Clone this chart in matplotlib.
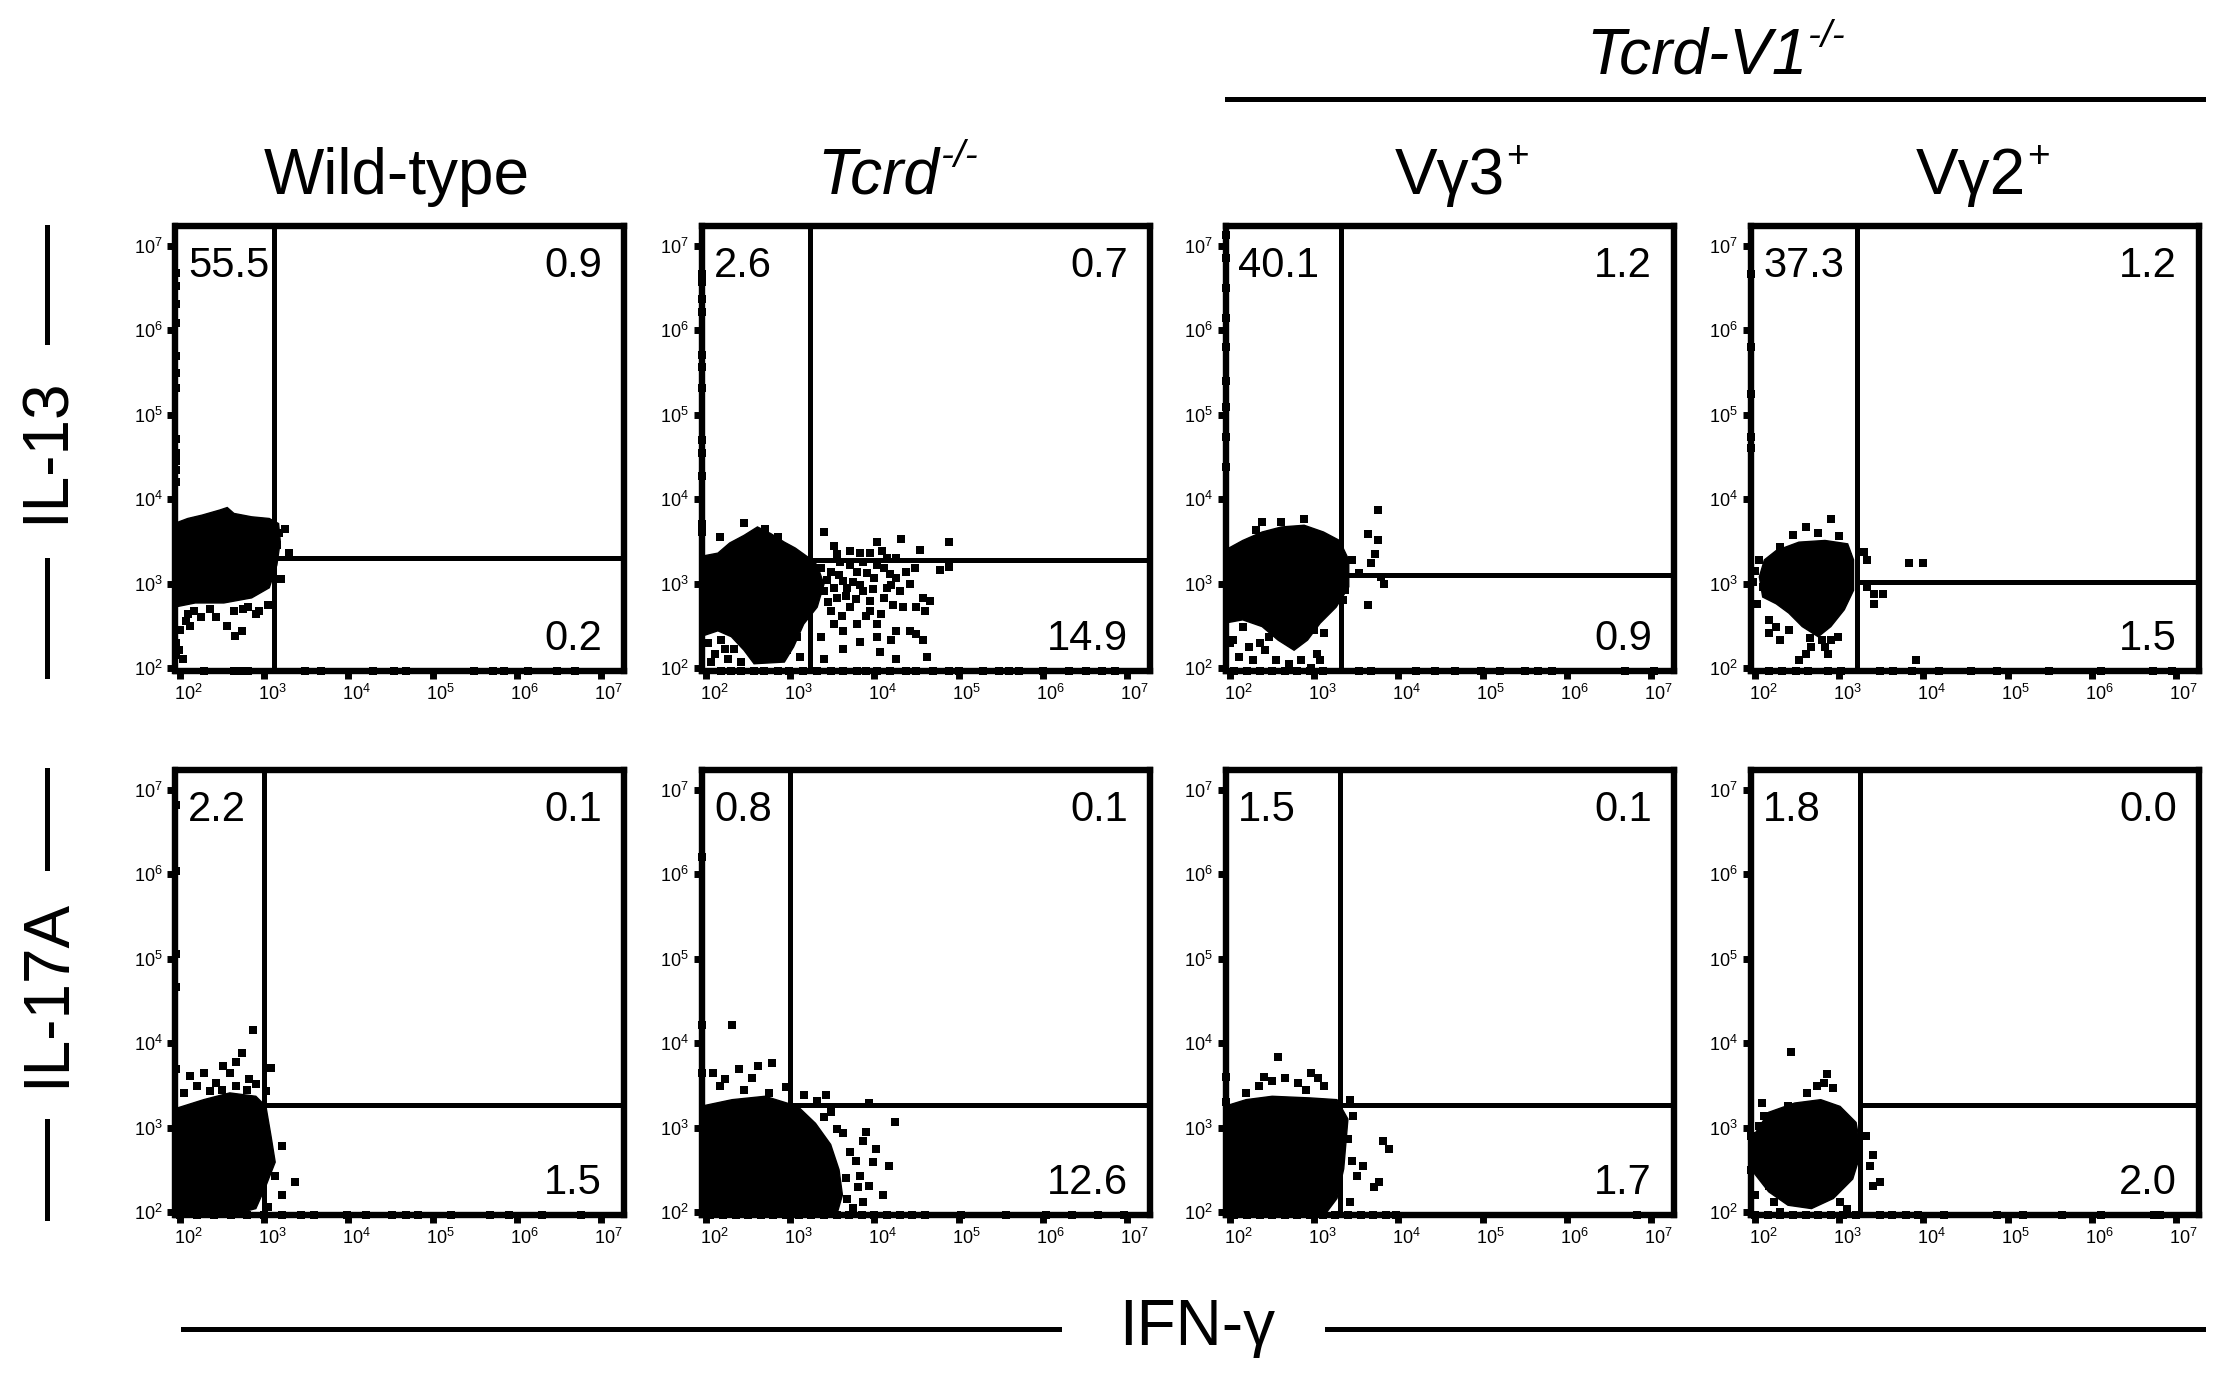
import numpy as np
import matplotlib.pyplot as plt
from matplotlib.lines import Line2D
from matplotlib.ticker import NullLocator
from matplotlib.transforms import ScaledTranslation

plt.rcParams['font.family'] = ['Liberation Sans', 'DejaVu Sans']
plt.rcParams['mathtext.fontset'] = 'custom'
plt.rcParams['mathtext.rm'] = 'Liberation Sans'
plt.rcParams['mathtext.it'] = 'Liberation Sans:italic'

# ---- data (all positions in log10 fluorescence units) ----
row_names = ['IL-13', 'IL-17A']

# quadrant percentages [row][col]: upper-left, upper-right, lower-right
quad_ul = [[55.5, 2.6, 40.1, 37.3], [2.2, 0.8, 1.5, 1.8]]
quad_ur = [[0.9, 0.7, 1.2, 1.2], [0.1, 0.1, 0.1, 0.0]]
quad_lr = [[0.2, 14.9, 0.9, 1.5], [1.5, 12.6, 1.7, 2.0]]

# quadrant gates (log10)
gate_x = [[3.12, 3.23, 3.32, 3.21], [3.00, 3.00, 3.31, 3.25]]
gate_y = [[3.30, 3.28, 3.10, 3.02], [3.27, 3.27, 3.27, 3.27]]

tick_exp = [2, 3, 4, 5, 6, 7]
x_lo, x_hi = 1.945, 7.27
y_lo, y_hi = 1.97, 7.24

# Wild-type, IL-13
a1_core = [(1.93, 3.71), (2.09, 3.77), (2.26, 3.81), (2.47, 3.87), (2.56, 3.90), (2.64, 3.83),
           (2.85, 3.79), (3.06, 3.77), (3.17, 3.71), (3.19, 3.50), (3.15, 3.22), (3.06, 2.95),
           (2.85, 2.83), (2.52, 2.77), (2.18, 2.77), (1.93, 2.72)]
a1_dots = [(2.09, 2.64), (2.16, 2.68), (2.07, 2.56), (2.35, 2.70), (2.43, 2.60), (2.56, 2.50),
           (2.65, 2.38), (2.73, 2.44), (2.90, 2.64), (3.04, 2.75), (2.64, 2.68), (1.99, 2.21),
           (2.03, 2.11), (3.25, 3.65), (3.30, 3.36), (3.15, 3.46), (3.04, 3.10), (2.81, 2.72),
           (2.94, 2.68), (2.25, 2.60), (2.75, 2.70), (2.00, 2.45), (2.12, 2.50), (3.18, 3.60),
           (3.20, 3.05)]
a1_floor = [2.28, 2.64, 2.72, 2.81, 3.49, 3.68, 4.29, 4.54, 4.69, 5.49, 5.72, 5.85, 6.14, 6.48, 6.69]
a1_wall = [6.68, 6.52, 6.31, 6.09, 5.70, 5.49, 5.31, 4.71, 4.55, 4.45, 4.35, 4.20, 2.30, 2.15]

# Tcrd-/-, IL-13
b1_core = [(1.93, 3.32), (2.14, 3.36), (2.28, 3.48), (2.45, 3.57), (2.61, 3.67), (2.77, 3.59),
           (2.93, 3.49), (3.06, 3.42), (3.20, 3.32), (3.32, 3.22), (3.40, 2.99), (3.32, 2.72),
           (3.16, 2.52), (3.04, 2.25), (2.93, 2.07), (2.57, 2.05), (2.45, 2.21), (2.30, 2.37),
           (2.14, 2.44), (1.93, 2.37)]
b1_dots = [(3.40, 3.61), (3.52, 3.44), (3.71, 3.38), (3.83, 3.36), (4.03, 3.49), (4.09, 3.38),
           (4.26, 3.30), (4.32, 3.53), (4.54, 3.40), (4.89, 3.49), (4.89, 3.20), (4.78, 3.16),
           (4.48, 3.18), (4.38, 3.14), (4.66, 2.79), (4.60, 2.68), (4.58, 2.33), (4.62, 2.13),
           (4.42, 2.44), (4.50, 2.40), (4.26, 2.44), (4.20, 2.33), (4.03, 2.37), (4.07, 2.19),
           (4.26, 2.11), (3.83, 2.31), (3.63, 2.44), (3.63, 2.23), (3.40, 2.11), (3.36, 2.37),
           (3.52, 2.52), (3.71, 2.72), (3.95, 2.68), (4.11, 2.83), (4.30, 2.91), (4.42, 2.99),
           (3.48, 3.14), (3.63, 3.03), (3.79, 3.14), (3.99, 3.07), (4.19, 3.11), (3.87, 2.91),
           (3.56, 2.83), (3.36, 3.18), (4.03, 3.22), (3.71, 3.22), (3.87, 3.26), (4.22, 2.75),
           (4.03, 2.52), (3.79, 2.52), (3.48, 2.68), (3.67, 2.95), (4.15, 2.95), (3.95, 2.79),
           (3.59, 3.26), (3.40, 2.91), (4.50, 2.72), (4.58, 2.83), (4.34, 2.72), (4.26, 3.07),
           (3.44, 3.04), (3.52, 2.95), (3.58, 3.10), (3.66, 2.85), (3.75, 3.02), (3.83, 2.98),
           (3.91, 3.12), (3.78, 2.82), (3.90, 2.62), (4.08, 2.64), (4.12, 3.18), (4.20, 2.98),
           (3.55, 3.35), (3.95, 3.36), (4.15, 3.30), (3.45, 2.78), (3.62, 2.62), (3.98, 2.93),
           (2.02, 2.29), (2.10, 2.17), (2.18, 2.33), (2.26, 2.11), (2.33, 2.23), (2.06, 2.07),
           (2.41, 2.07), (2.22, 2.23), (3.08, 2.37), (2.96, 2.21), (3.12, 2.13), (2.89, 2.33),
           (2.16, 3.55), (2.45, 3.72), (2.86, 3.55), (2.70, 3.64)]
b1_floor = [2.18, 2.30, 2.41, 2.57, 2.69, 2.85, 2.98, 3.15, 3.32, 3.48, 3.63, 3.79, 3.90, 4.03,
            4.19, 4.38, 4.50, 4.70, 4.89, 5.01, 5.29, 5.48, 5.60, 5.72, 6.00, 6.31, 6.51, 6.70, 6.86]
b1_wall = [6.67, 6.57, 6.37, 6.22, 5.71, 5.56, 5.32, 4.70, 4.54, 4.27, 3.71, 3.61]

# Tcrd-V1-/- Vg3+, IL-13
c1_core = [(1.93, 3.39), (2.15, 3.51), (2.38, 3.61), (2.61, 3.67), (2.88, 3.69), (3.11, 3.61),
           (3.30, 3.51), (3.41, 3.28), (3.41, 2.96), (3.26, 2.72), (3.07, 2.53), (2.92, 2.33),
           (2.76, 2.21), (2.57, 2.33), (2.38, 2.49), (2.15, 2.57), (1.93, 2.53)]
c1_dots = [(2.38, 3.73), (2.61, 3.73), (2.88, 3.77), (2.31, 3.63), (3.76, 3.87), (3.64, 3.59),
           (3.76, 3.51), (3.72, 3.35), (3.68, 3.24), (3.83, 3.00), (3.79, 3.08), (3.45, 3.28),
           (3.53, 3.12), (3.37, 2.92), (3.34, 2.80), (3.64, 2.74), (2.04, 2.65), (2.15, 2.49),
           (2.04, 2.33), (2.23, 2.25), (2.42, 2.21), (2.11, 2.13), (2.27, 2.09), (2.84, 2.09),
           (3.03, 2.17), (3.11, 2.41), (3.07, 2.09), (2.00, 2.30), (2.46, 2.37), (2.96, 2.00),
           (2.55, 2.10), (2.70, 2.05), (2.35, 2.30), (3.00, 2.45)]
c1_floor = [2.05, 2.20, 2.35, 2.50, 2.65, 2.80, 2.95, 3.10, 3.53, 3.68, 4.21, 4.44, 4.67, 4.98,
            5.21, 5.51, 5.66, 5.82, 6.69, 7.04]
c1_wall = [7.13, 6.86, 6.50, 6.15, 5.80, 5.40, 5.09, 4.73, 4.38]

# Tcrd-V1-/- Vg2+, IL-13
d1_core = [(2.25, 3.39), (2.52, 3.49), (2.83, 3.51), (3.10, 3.47), (3.17, 3.28), (3.17, 2.92),
           (3.06, 2.69), (2.90, 2.49), (2.75, 2.37), (2.56, 2.49), (2.40, 2.65), (2.25, 2.76),
           (2.09, 2.84), (2.05, 3.08), (2.11, 3.28)]
d1_dots = [(2.90, 3.77), (2.60, 3.67), (2.29, 3.43), (3.29, 3.37), (3.33, 3.28), (3.83, 3.24),
           (3.99, 3.24), (3.33, 2.96), (3.41, 2.88), (3.52, 2.88), (3.41, 2.76), (3.91, 2.09),
           (2.09, 2.96), (2.17, 2.57), (2.25, 2.49), (2.17, 2.41), (2.29, 2.33), (2.67, 2.25),
           (2.83, 2.25), (2.79, 2.33), (2.90, 2.33), (2.98, 2.37), (2.60, 2.17), (2.52, 2.09),
           (2.87, 2.17), (2.02, 2.76), (2.05, 3.28), (3.10, 3.31), (1.98, 3.02), (2.00, 3.15),
           (2.45, 3.58), (2.75, 3.60), (3.00, 3.56), (2.65, 2.35), (2.40, 2.45)]
d1_floor = [2.17, 2.32, 2.48, 2.63, 2.87, 3.02, 3.48, 3.64, 3.87, 4.18, 4.57, 4.87, 5.49, 6.11,
            6.73, 6.96]
d1_wall = [6.66, 5.80, 5.24, 4.73, 4.61]

# Wild-type, IL-17A
a2_core = [(1.93, 3.22), (2.28, 3.33), (2.59, 3.41), (2.90, 3.37), (3.02, 3.25), (3.08, 2.90),
           (3.13, 2.59), (3.02, 2.31), (2.90, 2.04), (2.59, 1.96), (2.28, 1.96), (1.93, 1.96)]
a2_dots = [(2.87, 4.16), (2.74, 3.88), (2.67, 3.78), (2.51, 3.73), (2.28, 3.65), (2.12, 3.61),
           (2.59, 3.65), (2.82, 3.57), (3.08, 3.71), (2.43, 3.53), (2.20, 3.49), (2.67, 3.49),
           (2.90, 3.51), (2.05, 3.41), (3.02, 3.43), (2.36, 3.43), (3.21, 2.78), (3.13, 2.43),
           (3.36, 2.35), (3.21, 2.20), (3.05, 2.06), (2.50, 3.45), (2.80, 3.44)]
a2_floor = [2.00, 2.20, 2.40, 2.60, 2.80, 3.00, 3.21, 3.44, 3.59, 3.98, 4.21, 4.52, 4.68, 4.83,
            5.22, 5.68, 5.91, 6.30, 6.77]
a2_wall = [6.82, 6.04, 5.06, 4.67, 3.69]

# Tcrd-/-, IL-17A
b2_core = [(1.93, 3.25), (2.31, 3.33), (2.70, 3.37), (3.09, 3.25), (3.30, 3.05), (3.48, 2.80),
           (3.58, 2.50), (3.62, 2.20), (3.55, 1.96), (1.93, 1.96)]
b2_dots = [(2.31, 4.22), (2.08, 3.65), (2.23, 3.57), (2.39, 3.69), (2.62, 3.73), (2.78, 3.76),
           (2.54, 3.59), (2.16, 3.49), (2.75, 3.41), (3.16, 3.39), (3.43, 3.39), (3.94, 3.29),
           (3.32, 3.31), (4.25, 3.06), (3.86, 2.84), (4.02, 2.75), (4.17, 2.55), (4.10, 2.20),
           (3.94, 2.31), (3.83, 2.43), (3.98, 2.59), (3.86, 2.12), (3.71, 2.71), (3.63, 2.94),
           (3.48, 3.18), (3.78, 2.60), (3.80, 2.30), (3.75, 2.05), (3.66, 2.40), (3.68, 2.15),
           (3.55, 2.98), (3.40, 3.12), (3.90, 2.95), (2.45, 3.45), (2.95, 3.48)]
b2_floor = [2.05, 2.20, 2.35, 2.50, 2.65, 2.80, 2.95, 3.10, 3.25, 3.40, 3.55, 3.70, 3.85, 4.00,
            4.15, 4.30, 4.45, 4.60, 5.03, 5.57, 6.04, 6.35, 6.66, 6.97]
b2_wall = [6.20, 4.22, 3.65]

# Tcrd-V1-/- Vg3+, IL-17A
c2_core = [(1.93, 3.25), (2.19, 3.33), (2.50, 3.37), (2.96, 3.35), (3.27, 3.33), (3.40, 3.10),
           (3.35, 2.51), (3.27, 2.16), (3.12, 1.96), (1.93, 1.96)]
c2_dots = [(2.57, 3.84), (2.65, 3.59), (2.50, 3.55), (2.81, 3.53), (2.96, 3.65), (3.04, 3.59),
           (3.12, 3.49), (2.34, 3.49), (2.19, 3.41), (3.43, 3.33), (3.46, 3.14), (3.82, 2.84),
           (3.89, 2.75), (3.58, 2.55), (3.51, 2.43), (3.77, 2.35), (3.71, 2.29), (3.43, 2.12),
           (3.40, 2.86), (3.45, 2.60), (2.40, 3.60), (2.90, 3.45)]
c2_floor = [2.05, 2.20, 2.35, 2.50, 2.65, 2.80, 2.95, 3.10, 3.25, 3.40, 3.55, 3.70, 3.85, 3.97, 6.84]
c2_wall = [3.60, 3.30]

# Tcrd-V1-/- Vg2+, IL-17A
d2_core = [(2.16, 3.18), (2.47, 3.29), (2.78, 3.33), (3.01, 3.25), (3.20, 3.06), (3.26, 2.71),
           (3.16, 2.39), (2.93, 2.16), (2.67, 2.04), (2.39, 2.08), (2.16, 2.24), (1.98, 2.47),
           (1.98, 2.90)]
d2_dots = [(2.43, 3.90), (2.85, 3.63), (2.82, 3.53), (2.73, 3.49), (2.62, 3.41), (2.93, 3.47),
           (2.39, 3.25), (2.08, 3.29), (2.11, 3.14), (2.05, 3.02), (3.32, 2.90), (3.40, 2.67),
           (3.37, 2.55), (3.48, 2.35), (3.40, 2.31), (2.08, 2.71), (2.16, 2.31), (2.23, 2.12),
           (3.01, 2.12), (3.09, 2.04), (2.00, 2.20), (2.30, 2.00)]
d2_floor = [2.00, 2.15, 2.30, 2.45, 2.60, 2.75, 2.90, 3.05, 3.20, 3.48, 3.63, 3.79, 3.94, 4.25,
            4.87, 5.18, 5.65, 6.11, 6.74, 6.81]
d2_wall = [2.90, 2.50]

cores = [[a1_core, b1_core, c1_core, d1_core], [a2_core, b2_core, c2_core, d2_core]]
dots = [[a1_dots, b1_dots, c1_dots, d1_dots], [a2_dots, b2_dots, c2_dots, d2_dots]]
floors = [[a1_floor, b1_floor, c1_floor, d1_floor], [a2_floor, b2_floor, c2_floor, d2_floor]]
walls = [[a1_wall, b1_wall, c1_wall, d1_wall], [a2_wall, b2_wall, c2_wall, d2_wall]]

# ---- layout (pixels) ----
W, H = 2217, 1374
fig = plt.figure(figsize=(W / 100, H / 100), dpi=100)
col_left = [175.5, 701.5, 1225.5, 1750.5]
row_top = [225.5, 769.5]
ax_w, ax_h = 448, 445
dot_s = 30

xlab_shift = ScaledTranslation(8 / 100, 0, fig.dpi_scale_trans)

for r in range(2):
    for c in range(4):
        L, T = col_left[c], row_top[r]
        ax = fig.add_axes([L / W, 1 - (T + ax_h) / H, ax_w / W, ax_h / H])
        ax.set_xscale('log')
        ax.set_yscale('log')
        ax.set_xlim(10 ** x_lo, 10 ** x_hi)
        ax.set_ylim(10 ** y_lo, 10 ** y_hi)

        core = np.array(cores[r][c]).T
        ax.fill(10 ** core[0], 10 ** core[1], color='black', lw=1, zorder=2)
        pts = np.array(dots[r][c]).T
        ax.scatter(10 ** pts[0], 10 ** pts[1], s=dot_s, marker='s', c='black', lw=0, zorder=3)
        fl = np.array(floors[r][c])
        ax.scatter(10 ** fl, np.full(len(fl), 10 ** y_lo), s=dot_s, marker='s', c='black',
                   lw=0, clip_on=False, zorder=4)
        wl = np.array(walls[r][c])
        ax.scatter(np.full(len(wl), 10 ** x_lo), 10 ** wl, s=dot_s, marker='s', c='black',
                   lw=0, clip_on=False, zorder=4)

        gx, gy = gate_x[r][c], gate_y[r][c]
        ax.axvline(10 ** gx, color='black', lw=3.6, zorder=5)
        ax.axhline(10 ** gy, xmin=(gx - x_lo) / (x_hi - x_lo), xmax=1, color='black',
                   lw=3.6, zorder=5)

        ax.text(0.028, 0.955, f'{quad_ul[r][c]:.1f}', transform=ax.transAxes, fontsize=30,
                ha='left', va='top', zorder=6)
        ax.text(0.952, 0.955, f'{quad_ur[r][c]:.1f}', transform=ax.transAxes, fontsize=30,
                ha='right', va='top', zorder=6)
        ax.text(0.952, 0.045, f'{quad_lr[r][c]:.1f}', transform=ax.transAxes, fontsize=30,
                ha='right', va='baseline', zorder=6)

        ticks = [10.0 ** k for k in tick_exp]
        labels = [rf'$\mathregular{{10^{{{k}}}}}$' for k in tick_exp]
        ax.set_xticks(ticks)
        ax.set_xticklabels(labels)
        ax.set_yticks(ticks)
        ax.set_yticklabels(labels)
        ax.xaxis.set_minor_locator(NullLocator())
        ax.yaxis.set_minor_locator(NullLocator())
        ax.tick_params(direction='out', length=6, width=5, labelsize=13)
        ax.tick_params(axis='x', pad=4)
        ax.tick_params(axis='y', pad=3)
        for lab in ax.get_xticklabels():
            lab.set_transform(lab.get_transform() + xlab_shift)
        for sp in ax.spines.values():
            sp.set_linewidth(4.6)

renderer = fig.canvas.get_renderer()


def sup_label(cx, base_y, base, sup, size, sup_size, style='normal'):
    t1 = fig.text(0, 0, base, fontsize=size, style=style, ha='left', va='baseline')
    t2 = fig.text(0, 0, sup, fontsize=sup_size, style=style, ha='left', va='baseline')
    w1 = t1.get_window_extent(renderer).width
    w2 = t2.get_window_extent(renderer).width
    x0 = cx - (w1 + w2) / 2
    rise = size / 72 * 100 * 0.42
    t1.set_position((x0 / W, 1 - base_y / H))
    t2.set_position(((x0 + w1 + 1) / W, 1 - (base_y - rise) / H))


def hline(x0, x1, y):
    fig.add_artist(Line2D([x0 / W, x1 / W], [1 - y / H, 1 - y / H], color='black', lw=3.6))


def vline(x, y0, y1):
    fig.add_artist(Line2D([x / W, x / W], [1 - y0 / H, 1 - y1 / H], color='black', lw=3.6))


title_size = 46
fig.text(397 / W, 1 - 194 / H, 'Wild-type', fontsize=title_size, ha='center', va='baseline')
sup_label(897, 194, 'Tcrd', '-/-', title_size, 28, style='italic')
sup_label(1461, 194, 'Vγ3', '+', title_size, 28)
sup_label(1982, 194, 'Vγ2', '+', title_size, 28)
sup_label(1715, 74, 'Tcrd-V1', '-/-', title_size, 28, style='italic')
hline(1227, 2203, 99)

# row labels with bars
fig.text(47 / W, 1 - 450 / H, row_names[0], fontsize=title_size, rotation=90,
         ha='center', va='center')
vline(47, 227, 342)
vline(47, 560, 676)
fig.text(47 / W, 1 - 993 / H, row_names[1], fontsize=title_size, rotation=90,
         ha='center', va='center')
vline(47, 770, 868)
vline(47, 1121, 1218)

# x-axis label with bars
fig.text(1197 / W, 1 - 1345 / H, 'IFN-γ', fontsize=title_size, ha='center', va='baseline')
hline(183, 1059, 1329)
hline(1327, 2203, 1329)

fig.savefig('out.png', dpi=100)
